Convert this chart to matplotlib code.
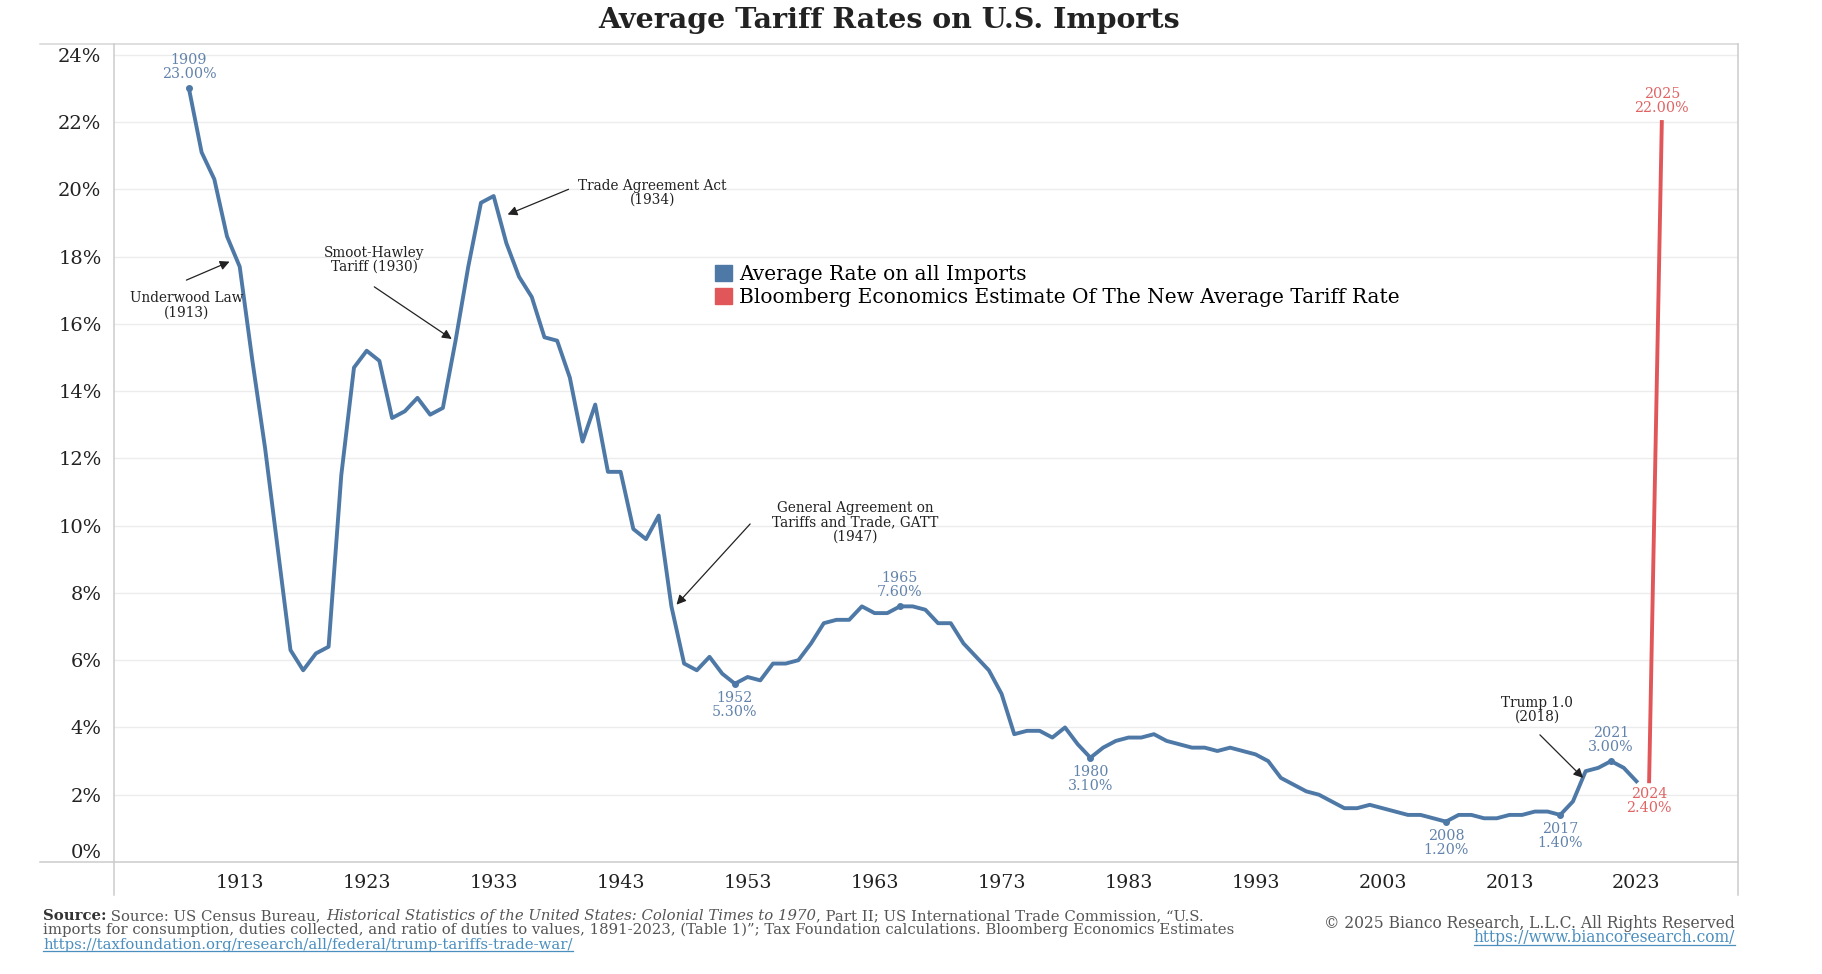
import matplotlib
matplotlib.use("Agg")
import matplotlib.pyplot as plt
import matplotlib.transforms as mtransforms
from matplotlib.lines import Line2D
from matplotlib.patches import Patch

# average tariff rate on all imports (%), 1909-2023
years = list(range(1909, 2024))
rates = [23.0,
         21.1, 20.3, 18.6, 17.7, 14.9, 12.3, 9.3, 6.3, 5.7, 6.2,
         6.4, 11.5, 14.7, 15.2, 14.9, 13.2, 13.4, 13.8, 13.3, 13.5,
         15.5, 17.7, 19.6, 19.8, 18.4, 17.4, 16.8, 15.6, 15.5, 14.4,
         12.5, 13.6, 11.6, 11.6, 9.9, 9.6, 10.3, 7.6, 5.9, 5.7,
         6.1, 5.6, 5.3, 5.5, 5.4, 5.9, 5.9, 6.0, 6.5, 7.1,
         7.2, 7.2, 7.6, 7.4, 7.4, 7.6, 7.6, 7.5, 7.1, 7.1,
         6.5, 6.1, 5.7, 5.0, 3.8, 3.9, 3.9, 3.7, 4.0, 3.5,
         3.1, 3.4, 3.6, 3.7, 3.7, 3.8, 3.6, 3.5, 3.4, 3.4,
         3.3, 3.4, 3.3, 3.2, 3.0, 2.5, 2.3, 2.1, 2.0, 1.8,
         1.6, 1.6, 1.7, 1.6, 1.5, 1.4, 1.4, 1.3, 1.2, 1.4,
         1.4, 1.3, 1.3, 1.4, 1.4, 1.5, 1.5, 1.4, 1.8, 2.7,
         2.8, 3.0, 2.8, 2.4]

# bloomberg estimate
est_years = [2024, 2025]
est_rates = [2.4, 22.0]

# labelled points
label_years = [1909, 1952, 1965, 1980, 2008, 2017, 2021]
label_side = ["above", "below", "above", "below", "below", "below", "above"]

# (text, text pos, arrow tail, arrow head)
notes = [
    ("Underwood Law\n(1913)", (1908.8, 16.55), (1908.8, 17.3), (1912.2, 17.85)),
    ("Smoot-Hawley\nTariff (1930)", (1923.6, 17.9), (1923.6, 17.1), (1929.7, 15.55)),
    ("Trade Agreement Act\n(1934)", (1945.5, 19.9), (1938.9, 20.0), (1934.1, 19.25)),
    ("General Agreement on\nTariffs and Trade, GATT\n(1947)", (1961.5, 10.1), (1953.2, 10.05), (1947.4, 7.65)),
    ("Trump 1.0\n(2018)", (2015.2, 4.52), (2015.4, 3.78), (2018.8, 2.5)),
]

BLUE = "#4e79a7"
RED = "#e15759"
LBLUE = "#6283ab"
LRED = "#e06464"
GRID = "#ececec"
FRAME = "#cccccc"
FONT = "DejaVu Serif"

W, H = 1822, 974
plt.rcParams["font.family"] = FONT

fig = plt.figure(figsize=(W / 100, H / 100), dpi=100)
ax = fig.add_axes([114 / W, 1 - 862 / H, (1738 - 114) / W, (862 - 44) / H])

ax.set_xlim(1903.1, 2031.0)
ax.set_ylim(0, 24.32)

# grid
for v in range(2, 25, 2):
    ax.axhline(v, color=GRID, lw=1, zorder=0)

ax.plot(years, rates, color=BLUE, lw=2.8, solid_joinstyle="round", zorder=3)
ax.plot(est_years, est_rates, color=RED, lw=2.8, zorder=3)

# dots + labels
for yr, side in zip(label_years, label_side):
    v = rates[years.index(yr)]
    ax.plot([yr], [v], "o", color=BLUE, ms=4, zorder=4)
    if side == "above":
        ax.annotate("%d\n%.2f%%" % (yr, v), (yr, v), xytext=(0, 5), textcoords="offset points",
                    ha="center", va="bottom", color=LBLUE, fontsize=10.3, linespacing=1.0)
    else:
        ax.annotate("%d\n%.2f%%" % (yr, v), (yr, v), xytext=(0, -5), textcoords="offset points",
                    ha="center", va="top", color=LBLUE, fontsize=10.3, linespacing=1.0)

ax.annotate("%d\n%.2f%%" % (est_years[0], est_rates[0]), (est_years[0], est_rates[0]), xytext=(0, -4),
            textcoords="offset points", ha="center", va="top", color=LRED, fontsize=10.3, linespacing=1.0)
ax.annotate("%d\n%.2f%%" % (est_years[1], est_rates[1]), (est_years[1], est_rates[1]), xytext=(0, 5),
            textcoords="offset points", ha="center", va="bottom", color=LRED, fontsize=10.3, linespacing=1.0)

# event notes
for txt, pos, tail, head in notes:
    ax.text(pos[0], pos[1], txt, ha="center", va="center", fontsize=9.8, color="#222222", linespacing=1.0)
    ax.annotate("", xy=head, xytext=tail,
                arrowprops=dict(arrowstyle="-|>", color="#222222", lw=0.9, mutation_scale=14,
                                shrinkA=0, shrinkB=0))

# legend
handles = [Patch(color=BLUE), Patch(color=RED)]
ax.legend(handles, ["Average Rate on all Imports",
                    "Bloomberg Economics Estimate Of The New Average Tariff Rate"],
          loc="upper left", bbox_to_anchor=(0.364, 0.742), frameon=False, fontsize=14.5,
          handlelength=0.85, handleheight=0.85, handletextpad=0.35, labelspacing=0.2, borderpad=0)

# axes
ax.set_xticks(list(range(1913, 2024, 10)))
ax.set_yticks(list(range(0, 25, 2)))
ax.set_yticklabels(["%d%%" % v for v in range(0, 25, 2)])
ax.tick_params(length=0, labelsize=13.7, colors="#222222", pad=9)
ax.tick_params(axis="y", labelsize=14)
for s in ax.spines.values():
    s.set_visible(False)

# tableau keeps the 0% label inside the pane
lab0 = ax.get_yticklabels()[0]
lab0.set_transform(lab0.get_transform() + mtransforms.ScaledTranslation(0, 11 / 100, fig.dpi_scale_trans))


# frame lines (pixel coords)
def fline(x0, y0, x1, y1, c=FRAME):
    fig.add_artist(Line2D([x0 / W, x1 / W], [1 - y0 / H, 1 - y1 / H], color=c, lw=1.1))


fline(40, 44, 1738, 44, "#d6d6d6")
fline(40, 862, 1738, 862)
fline(114, 44, 114, 895)
fline(1738, 44, 1738, 895)

# title
fig.text(889 / W, 1 - 20 / H, "Average Tariff Rates on U.S. Imports", ha="center", va="center",
         fontsize=20.5, fontweight="bold", color="#222222")

# footer
renderer = fig.canvas.get_renderer()
GREY = "#555555"
LINK = "#4b8fbf"
FS = 10.75


def pieces(x, y, parts):
    for txt, kw in parts:
        t = fig.text(x / W, 1 - y / H, txt, va="center", ha="left", fontsize=FS, **kw)
        bb = t.get_window_extent(renderer)
        x += bb.width
    return x


def underline(t):
    bb = t.get_window_extent(renderer)
    fig.add_artist(Line2D([bb.x0 / W, bb.x1 / W], [(bb.y0 + 1) / H, (bb.y0 + 1) / H], color=LINK, lw=0.9))


pieces(43, 916, [("Source:", dict(fontweight="bold", color="#333333")),
                 (" Source: US Census Bureau, ", dict(color=GREY)),
                 ("Historical Statistics of the United States: Colonial Times to 1970", dict(color=GREY, style="italic")),
                 (", Part II; US International Trade Commission, \u201cU.S.", dict(color=GREY))])
fig.text(43 / W, 1 - 930 / H, "imports for consumption, duties collected, and ratio of duties to values, 1891-2023, "
         "(Table 1)\u201d; Tax Foundation calculations. Bloomberg Economics Estimates",
         va="center", ha="left", fontsize=FS, color=GREY)
t = fig.text(43 / W, 1 - 945 / H, "https://taxfoundation.org/research/all/federal/trump-tariffs-trade-war/",
             va="center", ha="left", fontsize=FS, color=LINK)
underline(t)

fig.text(1735 / W, 1 - 923 / H, "\u00a9 2025 Bianco Research, L.L.C. All Rights Reserved",
         va="center", ha="right", fontsize=11.2, color=GREY)
t = fig.text(1735 / W, 1 - 937 / H, "https://www.biancoresearch.com/",
             va="center", ha="right", fontsize=11.2, color=LINK)
underline(t)

fig.savefig("out.png", dpi=100)
